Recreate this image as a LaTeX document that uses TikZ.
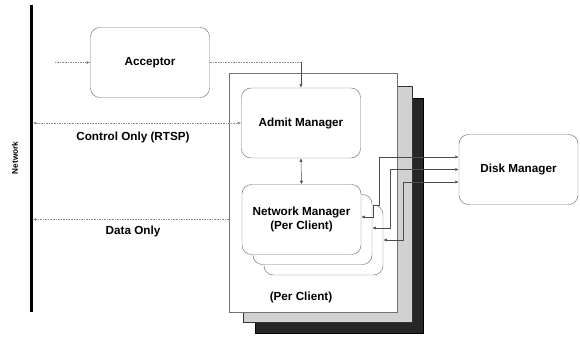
\documentclass[tikz,border=0pt]{standalone}
\usepackage{fontspec}
\setmainfont{Liberation Sans}
\usetikzlibrary{arrows.meta}

\tikzset{
	block/.style={draw=black!55, line width=0.4pt, rounded corners=8pt, fill=white,
		minimum width=3.57cm, minimum height=2.1cm, align=center, font=\bfseries},
	link/.style={line width=0.4pt, black!70},
	farlink/.style={line width=0.4pt, black!45, densely dotted},
	tip/.style={-{Latex[length=3pt,width=2.6pt]}},
	tips/.style={{Latex[length=3pt,width=2.6pt]}-{Latex[length=3pt,width=2.6pt]}},
	lbl/.style={font=\bfseries}
}

\begin{document}
\begin{tikzpicture}[x=0.03cm, y=-0.03cm]
	\useasboundingbox (0,0) rectangle (580,338);
	
	% network
	\node[fill=black, inner sep=0pt, minimum width=0.09cm, minimum height=9.21cm] (net) at (31,158.5) {};
	\node[lbl, font=\bfseries\scriptsize, rotate=90] (netlbl) at (15,158) {Network};
	
	% per client frames
	\filldraw[black!85, draw=black] (255,98) rectangle (423,333);
	\filldraw[black!18, draw=black!80] (243,86) rectangle (412,322);
	\node[draw=black!55, line width=0.4pt, fill=white, minimum width=5.04cm, minimum height=7.17cm] (outer) at (313,192.5) {};
	\node[lbl] (perclient) at (301,297) {(Per Client)};
	
	\node[block] (acceptor) at (150,62.5) {Acceptor};
	\node[block] (admit) at (301,123) {Admit Manager};
	\node[block] (nm3) at (323.5,240) {};
	\node[block] (nm2) at (312.5,229.5) {};
	\node[block] (nm1) at (301.5,219.5) {Network Manager\\(Per Client)};
	\node[block] (disk) at (518.5,169.5) {Disk Manager};
	
	\coordinate (accin) at (55,62.5);
	\node[lbl] (ctrl) at (133,137) {Control Only (RTSP)};
	\node[lbl] (data) at (133,231) {Data Only};
	
	\draw[farlink, tip] (accin) -- (acceptor.west);
	\draw[farlink] (acceptor.east) -- (301,62.5);
	\draw[link, tip] (301,62.5) -- (admit.north);
	\draw[farlink, tips] (admit.west) -- (admit.west -| net.east);
	\draw[farlink, tip] (outer.west |- nm1.west) -- (nm1.west -| net.east);
	\draw[link, tips] (admit.south) -- (nm1.north);
	
	\draw[link, tips] (nm1.east |- 0,217) -- (373,217) -- (373,205) -- (379,205) |- (disk.west |- 0,157);
	\draw[link, tips] (nm2.east |- 0,228) -- (390,228) |- (disk.west);
	\draw[link, tips] (nm3.east |- 0,240) -- (403,240) |- (disk.west |- 0,182);
\end{tikzpicture}
\end{document}
